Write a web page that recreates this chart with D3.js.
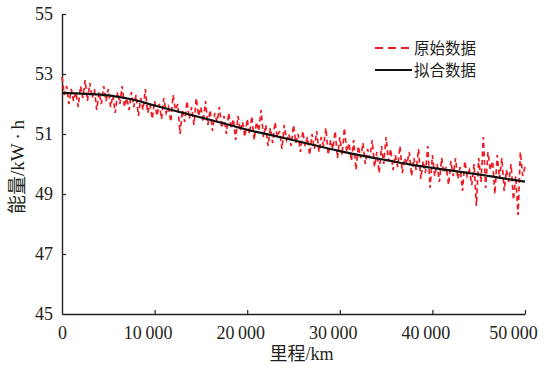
<!DOCTYPE html>
<html>
<head>
<meta charset="utf-8">
<script src="https://cdn.jsdelivr.net/npm/d3@7"></script>
<style>
    body { margin: 0; background: #fff; }
    text { font-family: "Liberation Serif", "Noto Sans CJK SC", serif; fill: #231f20; }
</style>
</head>
<body>
<svg id="chart" width="544" height="373"></svg>
<script>
// raw data, one reading every 250 km
var rawStep = 250;
var rawValues = [
    52.9, 52.3, 52.6, 52.0, 52.5, 52.1, 52.4, 51.9, 52.6, 52.2,
    52.8, 52.1, 52.7, 52.2, 52.5, 51.8, 52.4, 52.0, 52.6, 52.1,
    52.5, 51.9, 52.3, 51.7, 52.4, 52.0, 52.6, 51.9, 52.2, 51.8,
    52.4, 51.9, 52.3, 51.6, 52.2, 51.8, 52.5, 51.7, 52.0, 51.5,
    52.1, 51.6, 52.0, 51.5, 52.2, 51.7, 51.9, 51.4, 52.3, 51.8,
    52.0, 51.0, 51.8, 51.4, 52.1, 51.5, 51.9, 51.3, 52.2, 51.6,
    51.9, 51.4, 52.1, 51.3, 51.8, 51.1, 51.7, 51.4, 51.9, 51.2,
    51.6, 51.0, 51.7, 51.2, 51.5, 50.8, 51.6, 51.1, 51.4, 50.9,
    51.5, 51.0, 51.6, 50.8, 51.4, 51.1, 51.8, 50.9, 51.3, 50.6,
    51.2, 50.7, 51.4, 50.9, 51.1, 50.5, 51.3, 50.8, 51.0, 50.6,
    51.3, 50.7, 51.0, 50.4, 51.1, 50.6, 50.9, 50.3, 51.0, 50.5,
    51.1, 50.4, 50.9, 50.6, 51.2, 50.3, 50.8, 50.5, 51.1, 50.2,
    50.9, 50.3, 51.2, 50.4, 50.7, 50.1, 50.8, 49.8, 50.6, 50.2,
    50.7, 50.0, 50.5, 50.2, 50.8, 49.9, 50.4, 49.7, 50.6, 50.0,
    50.9, 50.1, 50.5, 49.8, 50.3, 49.9, 50.6, 49.7, 50.2, 50.0,
    50.4, 49.6, 50.2, 49.8, 50.5, 49.5, 50.1, 49.7, 50.6, 49.2,
    50.3, 49.6, 50.0, 49.4, 50.2, 49.7, 49.9, 49.3, 50.1, 49.6,
    50.2, 49.5, 49.9, 49.1, 50.1, 49.6, 49.8, 49.3, 50.0, 48.6,
    50.2, 49.4, 50.9, 49.2, 50.4, 49.8, 50.1, 49.0, 50.3, 49.5,
    50.2, 49.1, 49.8, 49.4, 50.0, 48.8, 49.6, 48.3, 50.4, 49.6,
    49.9
];

// fitted curve, every 2500 km
var fitMileage = [0, 2500, 5000, 7500, 10000, 12500, 15000, 17500, 20000, 22500, 25000,
    27500, 30000, 32500, 35000, 37500, 40000, 42500, 45000, 47500, 50000];
var fitValues = [52.37, 52.34, 52.29, 52.16, 51.95, 51.75, 51.55, 51.35, 51.14, 50.97, 50.79,
    50.61, 50.43, 50.27, 50.13, 49.99, 49.87, 49.76, 49.65, 49.53, 49.41];

var xTicks = [0, 10000, 20000, 30000, 40000, 50000];
var yTicks = [45, 47, 49, 51, 53, 55];
var seriesNames = ["原始数据", "拟合数据"];

var svg = d3.select("#chart");
var margin = {top: 14, right: 19, bottom: 59, left: 62};
var chartWidth = 544 - margin.left - margin.right;
var chartHeight = 373 - margin.top - margin.bottom;

var panel = svg.append("g")
    .attr("transform", "translate(" + margin.left + "," + margin.top + ")");

var xScale = d3.scaleLinear()
    .domain([0, 50000])
    .range([0, chartWidth]);

var yScale = d3.scaleLinear()
    .domain([45, 55])
    .range([chartHeight, 0]);

// thousands with a thin space, like "10 000"
function fmtMileage(d) {
    var s = String(d);
    return s.length > 3 ? s.slice(0, s.length - 3) + "\u2009" + s.slice(-3) : s;
}

// x axis, ticks pointing inside
var xAxis = d3.axisBottom(xScale)
    .tickValues(xTicks)
    .tickSizeInner(-4)
    .tickSizeOuter(0)
    .tickPadding(12)
    .tickFormat(fmtMileage);

var gx = panel.append("g")
    .attr("transform", "translate(0," + chartHeight + ")")
    .call(xAxis);

// y axis
var yAxis = d3.axisLeft(yScale)
    .tickValues(yTicks)
    .tickSizeInner(-4)
    .tickSizeOuter(0)
    .tickPadding(9);

var gy = panel.append("g")
    .call(yAxis);

[gx, gy].forEach(function (g) {
    g.select(".domain").attr("stroke", "#231f20").attr("stroke-width", 1.4);
    g.selectAll(".tick line").attr("stroke", "#231f20").attr("stroke-width", 1.2);
    g.selectAll(".tick text")
        .style("font-family", "'Liberation Serif', serif")
        .style("font-size", "18px")
        .attr("fill", "#231f20");
});
// labels sit a little left of their ticks in the original
gx.selectAll(".tick text")
    .attr("dx", function (d) { return d === 0 ? 0 : (d === 50000 ? -12 : -7); });

// no tick mark on the corners
gx.selectAll(".tick").filter(function (d) { return d === 0; }).select("line").remove();
gy.selectAll(".tick").filter(function (d) { return d === 45; }).select("line").remove();

// raw series
var rawData = rawValues.map(function (v, i) {
    return {mileage: i * rawStep, value: v};
});
var fitData = fitMileage.map(function (m, i) {
    return {mileage: m, value: fitValues[i]};
});

var line = d3.line()
    .x(function (d) { return xScale(d.mileage); })
    .y(function (d) { return yScale(d.value); });

panel.append("path")
    .datum(rawData)
    .attr("d", line)
    .attr("fill", "none")
    .attr("stroke", "#ed1c24")
    .attr("stroke-width", 1.7)
    .attr("stroke-dasharray", "5,3.5");

panel.append("path")
    .datum(fitData)
    .attr("d", line.curve(d3.curveMonotoneX))
    .attr("fill", "none")
    .attr("stroke", "#111")
    .attr("stroke-width", 2.2);

// legend
var legendColors = ["#ed1c24", "#111"];
var legendDash = ["8,5", null];
for (var index = 0; index < 2; index++) {
    var ly = 48 + 22 * index;
    svg.append("line")
        .attr("x1", 375).attr("x2", 412)
        .attr("y1", ly).attr("y2", ly)
        .attr("stroke", legendColors[index])
        .attr("stroke-width", index === 0 ? 1.8 : 2.2)
        .attr("stroke-dasharray", legendDash[index]);
    svg.append("text")
        .attr("x", 414)
        .attr("y", ly)
        .attr("dy", "0.36em")
        .style("font-size", "15.5px")
        .attr("fill", "#3a3a3a")
        .text(seriesNames[index]);
}

// axis titles
svg.append("text")
    .attr("x", margin.left + chartWidth / 2 + 8)
    .attr("y", 360)
    .attr("text-anchor", "middle")
    .style("font-size", "18px")
    .text("里程/km");

svg.append("text")
    .attr("transform", "translate(17,167) rotate(-90)")
    .attr("text-anchor", "middle")
    .attr("dy", "0.36em")
    .style("font-size", "19px")
    .text("能量/kW\u2009·\u2009h");
</script>
</body>
</html>
